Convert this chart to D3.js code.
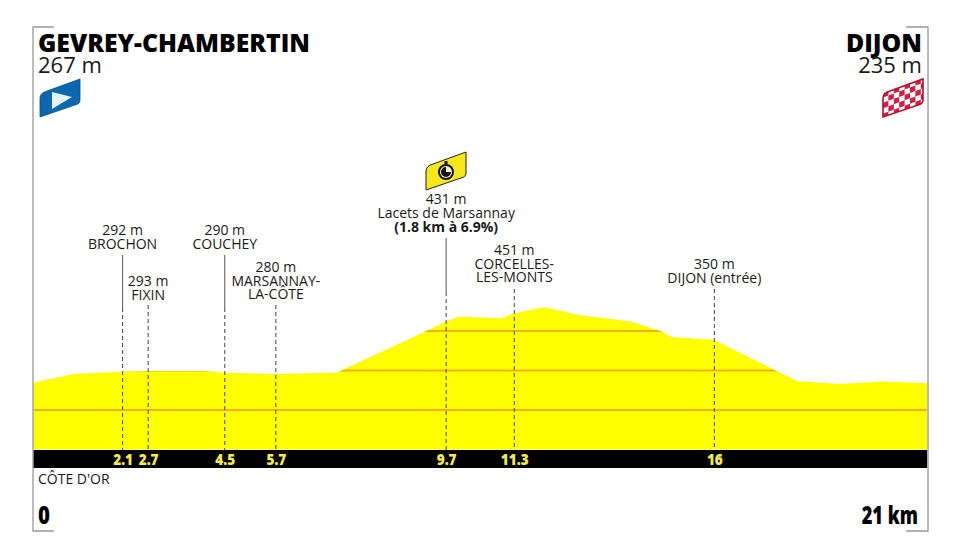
<!DOCTYPE html>
<html>
<head>
<meta charset="utf-8">
<script src="https://cdn.jsdelivr.net/npm/d3@7"></script>
<style>
html, body { margin: 0; padding: 0; background: #fff; }
text { font-family: "Open Sans", sans-serif; fill: #1a1a1a; }
</style>
</head>
<body>
<div id="viz"></div>
<script>
// profile
var profileKm = [0, 0.95, 2.1, 2.7, 4.0, 4.5, 5.7, 7.0, 7.1, 9.2, 9.7, 10.0, 11.0, 11.3, 12.0, 12.85, 14.0, 14.3, 14.8, 15.0, 16.0, 17.95, 18.95, 19.95, 21];
var profileElev = [269, 291, 297, 299, 299, 294, 291, 294, 293, 398, 424, 436, 432, 445, 460, 440, 425, 415, 397, 385, 377, 273, 266, 272, 268];

var elevTicks = [200, 300, 400];

var passKm = [2.1, 2.7, 4.5, 5.7, 9.7, 11.3, 16];
var passTicks = ["2.1", "2.7", "4.5", "5.7", "9.7", "11.3", "16"];
var passElev = ["292 m", "293 m", "290 m", "280 m", "431 m", "451 m", "350 m"];
var passNames = [
	["BROCHON"],
	["FIXIN"],
	["COUCHEY"],
	["MARSANNAY-", "LA-CÔTE"],
	["Lacets de Marsannay"],
	["CORCELLES-", "LES-MONTS"],
	["DIJON (entrée)"]
];
var passNotes = ["", "", "", "", "(1.8 km à 6.9%)", "", ""];

var startName = "GEVREY-CHAMBERTIN", startElev = "267 m";
var finishName = "DIJON", finishElev = "235 m";
var region = "CÔTE D'OR";
var distStart = "0", distEnd = "21 km";

// layout of the labels, not data
var labelTop = [235, 286, 235, 272, 204, 255, 269];
var solidTop = [255, 0, 255, 0, 238, 0, 0];
var solidEnd = [308, 0, 308, 0, 292, 0, 0];
var dashStart = [308, 305, 308, 305, 292, 289, 289];

var viz = { width: 960, height: 540 };

var x = d3.scaleLinear().domain([0, 21]).range([33.2, 927.2]);
var y = d3.scaleLinear().domain([100, 400]).range([449.5, 331]);

var svg = d3.select("#viz")
	.append("svg")
	.attr("width", viz.width)
	.attr("height", viz.height)
	.style("display", "block");

var area = d3.area()
	.x(function(d) { return x(d[0]); })
	.y0(y(100))
	.y1(function(d) { return y(d[1]); });

var profile = d3.zip(profileKm, profileElev);

svg.append("clipPath").attr("id", "profile-clip")
	.append("path").attr("d", area(profile));

svg.append("path")
	.attr("d", area(profile))
	.attr("fill", "#ffff00");

// elevation lines only show inside the profile
svg.append("g")
	.attr("clip-path", "url(#profile-clip)")
	.selectAll("line")
	.data(elevTicks).enter()
	.append("line")
	.attr("x1", x(0))
	.attr("x2", x(21))
	.attr("y1", function(d) { return y(d); })
	.attr("y2", function(d) { return y(d); })
	.attr("stroke", "#f0b400")
	.attr("stroke-width", 2);

// black band and km labels
svg.append("rect")
	.attr("x", x(0))
	.attr("y", 450)
	.attr("width", x(21) - x(0))
	.attr("height", 18)
	.attr("fill", "#000");

var axis = d3.axisBottom(x)
	.tickValues(passKm)
	.tickSize(0)
	.tickFormat(function(d, i) { return passTicks[i]; });

var axisG = svg.append("g")
	.attr("transform", "translate(0,450)")
	.call(axis);
axisG.select(".domain").remove();
axisG.selectAll("text")
	.attr("y", 15)
	.attr("dy", null)
	.attr("transform", "scale(0.85,1)")
	.style("font-family", '"Open Sans", sans-serif')
	.style("font-size", "16px")
	.style("font-weight", 800)
	.style("fill", "#f5ec45");

// pass lines
svg.append("g").selectAll("line")
	.data(passKm).enter()
	.append("line")
	.attr("x1", function(d) { return x(d); })
	.attr("x2", function(d) { return x(d); })
	.attr("y1", function(d, i) { return dashStart[i]; })
	.attr("y2", 450)
	.attr("stroke", "#444")
	.attr("stroke-width", 1)
	.attr("stroke-dasharray", "4,3");

svg.append("g").selectAll("line")
	.data(passKm.filter(function(d, i) { return solidEnd[i] > 0; })).enter()
	.append("line")
	.attr("x1", function(d) { return x(d); })
	.attr("x2", function(d) { return x(d); })
	.attr("y1", function(d) { return solidTop[passKm.indexOf(d)]; })
	.attr("y2", function(d) { return solidEnd[passKm.indexOf(d)]; })
	.attr("stroke", "#555")
	.attr("stroke-width", 1);

// pass labels
var labels = svg.append("g").selectAll("text")
	.data(passKm).enter()
	.append("text")
	.attr("text-anchor", "middle")
	.attr("font-size", 14)
	.attr("y", function(d, i) { return labelTop[i]; });

labels.each(function(d, i) {
	var t = d3.select(this);
	var lines = [passElev[i]].concat(passNames[i]);
	lines.forEach(function(l, k) {
		t.append("tspan")
			.attr("x", x(d))
			.attr("dy", k == 0 ? 0 : 13.5)
			.text(l);
	});
	if (passNotes[i]) {
		t.append("tspan")
			.attr("x", x(d))
			.attr("dy", 14)
			.attr("font-weight", 700)
			.text(passNotes[i]);
	}
});

// frame corners
svg.append("path")
	.attr("d", "M54,27H33V531H54M906,27H928V531H906")
	.attr("fill", "none")
	.attr("stroke", "#999")
	.attr("stroke-width", 1.3);

// head texts
svg.append("text").attr("x", 38).attr("y", 52)
	.attr("font-size", 24.8).attr("font-weight", 800).style("fill", "#000").text(startName);
svg.append("text").attr("x", 38).attr("y", 73)
	.attr("font-size", 22).text(startElev);
svg.append("text").attr("x", 922).attr("y", 52).attr("text-anchor", "end")
	.attr("font-size", 24.8).attr("font-weight", 800).style("fill", "#000").text(finishName);
svg.append("text").attr("x", 922).attr("y", 73).attr("text-anchor", "end")
	.attr("font-size", 22).text(finishElev);

svg.append("text").attr("x", 38).attr("y", 484)
	.attr("font-size", 14).text(region);
svg.append("text").attr("transform", "translate(38,524) scale(0.85,1)")
	.attr("font-size", 24).attr("font-weight", 800).style("fill", "#000").text(distStart);
svg.append("text").attr("transform", "translate(918,524) scale(0.76,1)")
	.attr("text-anchor", "end")
	.attr("font-size", 24).attr("font-weight", 800).style("fill", "#000").text(distEnd);

// icons
var flagShape = "M0,38V19Q0,14 7,12L40,0V21Q40,25 35,26Z";

var startIcon = svg.append("g").attr("transform", "translate(40,79)");
startIcon.append("path").attr("d", flagShape).attr("fill", "#0b68b0").attr("stroke", "#0a4d86").attr("stroke-width", 0.8);
startIcon.append("path").attr("d", "M12,13L32,18L12,30Z").attr("fill", "#e6f2fa");

var finishIcon = svg.append("g").attr("transform", "translate(883,79)");
svg.append("clipPath").attr("id", "finish-clip")
	.append("path").attr("d", flagShape);
finishIcon.append("path").attr("d", flagShape).attr("fill", "#fff");
var checks = finishIcon.append("g").attr("clip-path", "url(#finish-clip)");
var cols = d3.range(8), rows = d3.range(6);
cols.forEach(function(c) {
	rows.forEach(function(r) {
		if ((c + r) % 2 == 0) {
			checks.append("rect")
				.attr("width", 5.4).attr("height", 5.4)
				.attr("fill", "#cf1f45")
				.attr("transform", "translate(0,14) skewY(-20) translate(" + (c * 5.4) + "," + (r * 5.4 - 1) + ")");
		}
	});
});
finishIcon.append("path").attr("d", flagShape).attr("fill", "none").attr("stroke", "#b5102c").attr("stroke-width", 1.6);

var timeIcon = svg.append("g").attr("transform", "translate(426,152)");
timeIcon.append("path").attr("d", flagShape).attr("fill", "#f6e71a").attr("stroke", "#222").attr("stroke-width", 1);
timeIcon.append("rect").attr("x", 18.5).attr("y", 9).attr("width", 3).attr("height", 3).attr("fill", "#111");
timeIcon.append("circle").attr("cx", 20).attr("cy", 20).attr("r", 8).attr("fill", "#111");
timeIcon.append("circle").attr("cx", 20).attr("cy", 20).attr("r", 6).attr("fill", "#f6f3c8");
timeIcon.append("path")
	.attr("transform", "translate(20,20)")
	.attr("d", d3.arc().innerRadius(0).outerRadius(5)({ startAngle: Math.PI * 0.5, endAngle: Math.PI * 2 }))
	.attr("fill", "#111");
</script>
</body>
</html>
